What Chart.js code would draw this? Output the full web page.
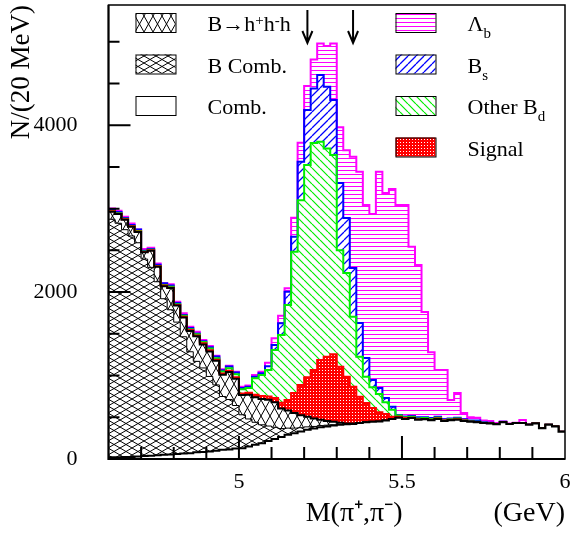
<!DOCTYPE html>
<html>
<head>
<meta charset="utf-8">
<script src="https://cdn.jsdelivr.net/npm/chart.js@4.4.0/dist/chart.umd.min.js"></script>
<style>
  html, body { margin: 0; padding: 0; background: #fff; }
  canvas { display: block; }
</style>
</head>
<body>
<canvas id="canvas" width="570" height="535"></canvas>
<script>
"use strict";

// 20 MeV bins, 4.60 -> 6.00 GeV
const binLo = 4.6;
const binWidth = 0.02;
const nBins = 70;
const edges = Array.from({ length: nBins + 1 }, (_, i) => +(binLo + i * binWidth).toFixed(2));

// stacked components, bottom to top (events per bin)
const comb = [20, 20, 25, 25, 30, 35, 40, 45, 50, 55,
  60, 65, 70, 80, 85, 90, 100, 110, 115, 125,
  130, 150, 170, 190, 215, 240, 265, 290, 310, 330,
  350, 365, 380, 390, 400, 410, 415, 420, 430, 440,
  445, 450, 460, 480, 495, 480, 490, 470, 475, 465,
  480, 455, 465, 470, 455, 445, 440, 430, 425, 415,
  440, 420, 430, 430, 410, 425, 367, 410, 390, 327];
const bComb = [2853, 2805, 2723, 2648, 2561, 2361, 2256, 2079, 1870, 1733,
  1580, 1400, 1215, 1090, 1006, 899, 788, 639, 598, 516,
  400, 330, 270, 220, 180, 140, 100, 80, 60, 45,
  35, 25, 20, 15, 10, 5, 0, 0, 0, 0,
  0, 0, 0, 0, 0, 0, 0, 0, 0, 0,
  0, 0, 0, 0, 0, 0, 0, 0, 0, 0,
  0, 0, 0, 0, 0, 0, 0, 0, 0, 0];
const bhhh = [90, 110, 120, 110, 130, 80, 200, 180, 150, 260,
  200, 230, 250, 300, 280, 300, 290, 260, 330, 320,
  236, 290, 300, 310, 315, 300, 240, 210, 180, 150,
  120, 95, 70, 50, 35, 20, 10, 5, 0, 0,
  0, 0, 0, 0, 0, 0, 0, 0, 0, 0,
  0, 0, 0, 0, 0, 0, 0, 0, 0, 0,
  0, 0, 0, 0, 0, 0, 0, 0, 0, 0];
const signal = [5, 5, 5, 5, 5, 5, 5, 5, 10, 5,
  5, 10, 10, 10, 15, 15, 10, 15, 15, 20,
  20, 25, 30, 35, 40, 50, 70, 127, 240, 361,
  475, 581, 716, 770, 809, 671, 561, 441, 316, 231,
  166, 110, 80, 27, 10, 10, 5, 5, 5, 5,
  5, 5, 5, 5, 5, 0, 0, 0, 0, 0,
  0, 0, 0, 0, 0, 0, 0, 0, 0, 0];
const otherBd = [5, 5, 5, 5, 5, 5, 5, 5, 5, 10,
  10, 10, 10, 15, 15, 20, 20, 25, 30, 35,
  50, 55, 197, 251, 316, 576, 811, 1138, 1694, 2214,
  2542, 2720, 2615, 2497, 2388, 1394, 1244, 839, 480, 315,
  249, 220, 140, 83, 15, 10, 10, 10, 10, 10,
  10, 5, 5, 10, 5, 5, 5, 5, 5, 0,
  0, 0, 0, 0, 0, 0, 0, 0, 0, 0];
const bs = [10, 15, 10, 10, 20, 10, 10, 15, 20, 15,
  15, 10, 15, 10, 10, 15, 20, 15, 20, 20,
  15, 15, 20, 20, 44, 60, 140, 159, 179, 462,
  659, 654, 799, 738, 659, 806, 657, 583, 403, 224,
  86, 70, 50, 37, 7, 10, 10, 15, 10, 10,
  10, 10, 10, 10, 10, 10, 15, 5, 5, 5,
  5, 0, 0, 0, 0, 0, 0, 0, 0, 0];
const lambdaB = [20, 15, 15, 20, 0, 20, 15, 15, 0, 15,
  15, 20, 15, 20, 15, 15, 10, 10, 10, 10,
  15, 15, 19, 20, 44, 80, 91, 41, 228, 228,
  287, 348, 380, 488, 679, 668, 813, 1334, 1813, 1833,
  1989, 2592, 2457, 2608, 2516, 2533, 2028, 1824, 1260, 790,
  561, 591, 222, 295, 75, 40, 35, 20, 20, 10,
  5, 5, 5, 37, 5, 5, 5, 0, 0, 0];

const xTickLabels = [5, 5.5, 6];
const yTickLabels = [0, 2000, 4000];
const massWindow = [5.21, 5.35];

// legend text: [text, shift] with 1 = superscript, -1 = subscript
const legendText = {
  bhhh: [['B→h', 0], ['+', 1], ['h', 0], ['-', 1], ['h', 0]],
  bComb: [['B Comb.', 0]],
  comb: [['Comb.', 0]],
  lambdaB: [['Λ', 0], ['b', -1]],
  bs: [['B', 0], ['s', -1]],
  otherBd: [['Other B', 0], ['d', -1]],
  signal: [['Signal', 0]]
};

const FONT = '"Liberation Serif", "Times New Roman", serif';
const canvas = document.getElementById("canvas");
const ctx = canvas.getContext("2d");

// hatch patterns
function makePattern(w, h, paint) {
  const c = document.createElement('canvas');
  c.width = w;
  c.height = h;
  paint(c.getContext('2d'), w, h);
  return ctx.createPattern(c, 'repeat');
}
function crossLines(color, lw) {
  return (g, w, h) => {
    g.strokeStyle = color;
    g.lineWidth = lw;
    g.beginPath();
    for (const dx of [-w, 0, w]) {
      for (const dy of [-h, 0, h]) {
        g.moveTo(dx, dy); g.lineTo(dx + w, dy + h);
        g.moveTo(dx + w, dy); g.lineTo(dx, dy + h);
      }
    }
    g.stroke();
  };
}
function diagLines(color, lw, up) {
  return (g, w, h) => {
    g.strokeStyle = color;
    g.lineWidth = lw;
    g.beginPath();
    for (const dx of [-w, 0, w]) {
      if (up) { g.moveTo(dx, h); g.lineTo(dx + w, 0); }
      else { g.moveTo(dx, 0); g.lineTo(dx + w, h); }
    }
    g.stroke();
  };
}

const hhhFill = makePattern(9, 16, crossLines('#000', 1));
const bCombFill = makePattern(12, 7, crossLines('#000', 1));
const lambdaFill = makePattern(4, 4, (g) => { g.fillStyle = '#ff00ff'; g.fillRect(0, 2, 4, 1); });
const bsFill = makePattern(8, 8, diagLines('#0000ff', 1.3, true));
const bdFill = makePattern(8, 8, diagLines('#00ee00', 1.2, false));
const sigFill = makePattern(3, 3, (g) => {
  g.fillStyle = '#ff0000'; g.fillRect(0, 0, 3, 3);
  g.fillStyle = '#ffffff'; g.fillRect(1, 1, 1, 1);
});

function steps(vals) {
  return edges.map((x, i) => ({ x, y: vals[Math.min(i, vals.length - 1)] }));
}

const datasets = [
  { key: 'comb', data: steps(comb), borderColor: '#000', backgroundColor: '#fff', fill: 'origin', borderWidth: 2 },
  { key: 'bComb', data: steps(bComb), borderColor: '#000', backgroundColor: bCombFill, fill: '-1', borderWidth: 1 },
  { key: 'bhhh', data: steps(bhhh), borderColor: '#000', backgroundColor: hhhFill, fill: '-1', borderWidth: 2 },
  { key: 'signal', data: steps(signal), borderColor: '#ff0000', backgroundColor: sigFill, fill: '-1', borderWidth: 2 },
  { key: 'otherBd', data: steps(otherBd), borderColor: '#00ee00', backgroundColor: bdFill, fill: '-1', borderWidth: 2 },
  { key: 'bs', data: steps(bs), borderColor: '#0000ff', backgroundColor: bsFill, fill: '-1', borderWidth: 2 },
  { key: 'lambdaB', data: steps(lambdaB), borderColor: '#ff00ff', backgroundColor: lambdaFill, fill: '-1', borderWidth: 2 }
];

function drawRich(g, segs, x, y, size) {
  for (const [t, s] of segs) {
    const fs = s ? Math.round(size * 0.68) : size;
    g.font = fs + 'px ' + FONT;
    const dy = s > 0 ? -size * 0.28 : s < 0 ? size * 0.32 : 0;
    g.fillText(t, x, y + dy);
    x += g.measureText(t).width;
  }
}

// frame, inward tick marks, window arrows and legend
const framePlugin = {
  id: 'frame',
  afterDraw(chart) {
    const { ctx: g, chartArea: a, scales: { x, y } } = chart;
    g.save();
    g.strokeStyle = '#000';
    g.lineWidth = 1.5;
    g.strokeRect(a.left, a.top, a.right - a.left, a.bottom - a.top);
    g.lineWidth = 2;
    g.beginPath();
    g.moveTo(a.left, a.top); g.lineTo(a.left, a.bottom); g.lineTo(a.right, a.bottom);
    g.stroke();
    g.beginPath();
    for (let i = 1; i < 14; i++) {
      const v = binLo + i * 0.1;
      const px = x.getPixelForValue(v);
      const len = Math.abs(v * 2 - Math.round(v * 2)) < 1e-6 ? 23 : 12;
      g.moveTo(px, a.bottom); g.lineTo(px, a.bottom - len);
    }
    for (let v = 500; v < y.max; v += 500) {
      const py = y.getPixelForValue(v);
      const len = v % 2000 === 0 ? 22 : 11;
      g.moveTo(a.left, py); g.lineTo(a.left + len, py);
    }
    g.stroke();

    for (const m of massWindow) {
      const px = x.getPixelForValue(m);
      const tip = a.top + 38;
      g.beginPath();
      g.moveTo(px, a.top + 5); g.lineTo(px, tip);
      g.moveTo(px - 5, tip - 12); g.lineTo(px, tip); g.lineTo(px + 5, tip - 12);
      g.stroke();
    }

    const cols = [
      { x: a.left + 27, keys: ['bhhh', 'bComb', 'comb'] },
      { x: a.left + 287, keys: ['lambdaB', 'bs', 'otherBd', 'signal'] }
    ];
    g.textBaseline = 'alphabetic';
    g.textAlign = 'left';
    for (const col of cols) {
      col.keys.forEach((k, i) => {
        const ds = chart.data.datasets.find(d => d.key === k);
        const top = a.top + 8 + i * 41.5;
        g.fillStyle = ds.backgroundColor;
        g.fillRect(col.x, top, 40, 19);
        g.lineWidth = 1;
        g.strokeStyle = '#000';
        g.strokeRect(col.x + 0.5, top + 0.5, 40, 19);
        g.fillStyle = '#000';
        drawRich(g, legendText[k], col.x + 72, top + 18, 22);
      });
    }
    g.restore();
  }
};

const myChart = new Chart(ctx, {
  type: 'line',
  data: { datasets },
  options: {
    responsive: false,
    animation: false,
    events: [],
    layout: { padding: { top: 5, right: 5, left: 0, bottom: 0 } },
    elements: {
      point: { radius: 0 },
      line: { tension: 0, stepped: true }
    },
    plugins: { legend: { display: false }, tooltip: { enabled: false } },
    scales: {
      x: {
        type: 'linear', min: 4.6, max: 6.0,
        grid: { display: false, drawTicks: false },
        border: { display: false },
        afterBuildTicks: s => { s.ticks = xTickLabels.map(v => ({ value: v })); },
        afterFit: s => { s.height = 76; s.paddingLeft = 0; s.paddingRight = 0; },
        ticks: {
          color: '#000', padding: 10, maxRotation: 0, autoSkip: false,
          font: { family: FONT, size: 22 },
          callback: v => String(v)
        },
        title: {
          display: true, align: 'end', color: '#000',
          text: 'M(π⁺,π⁻)             (GeV)',
          font: { family: FONT, size: 28 },
          padding: { top: 0, bottom: 5 }
        }
      },
      y: {
        stacked: true, min: 0, max: 5440,
        grid: { display: false, drawTicks: false },
        border: { display: false },
        afterBuildTicks: s => { s.ticks = yTickLabels.map(v => ({ value: v })); },
        afterFit: s => { s.width = 108.5; s.paddingTop = 0; s.paddingBottom = 0; },
        ticks: {
          color: '#000', padding: 31,
          font: { family: FONT, size: 22 },
          callback: v => String(v)
        },
        title: {
          display: true, align: 'end', color: '#000',
          text: 'N/(20 MeV)',
          font: { family: FONT, size: 27 },
          padding: { top: 6, bottom: 0 }
        }
      }
    }
  },
  plugins: [framePlugin]
});
</script>
</body>
</html>
